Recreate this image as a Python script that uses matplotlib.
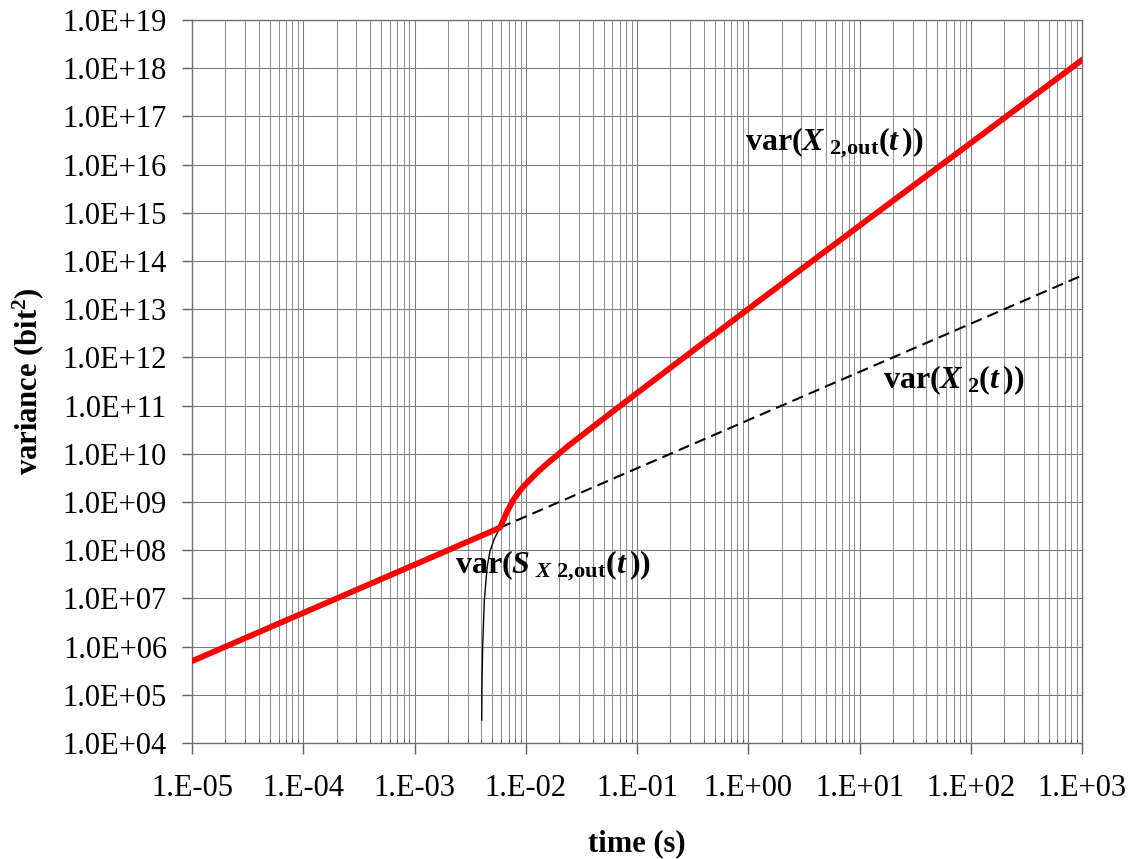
import numpy as np
import matplotlib
matplotlib.use("Agg")
import matplotlib.pyplot as plt
from matplotlib.ticker import FixedLocator, FuncFormatter, LogLocator, NullFormatter

plt.rcParams['font.family'] = ['Liberation Serif', 'DejaVu Serif']
plt.rcParams['mathtext.fontset'] = 'custom'
plt.rcParams['mathtext.rm'] = 'Liberation Serif:bold'
plt.rcParams['mathtext.bf'] = 'Liberation Serif:bold'
plt.rcParams['mathtext.it'] = 'Liberation Serif:italic:bold'

# ---- data ----
# var(X2(t)) : straight line, slope 1 in log-log
t_X = [1e-5, 1e3]
v_X = [5e5, 5e13]

# var(S_X2,out(t)) : thin black curve (continues beneath the red line)
t_S = [4.02e-3, 4.04e-3, 4.10e-3, 4.24e-3, 4.50e-3, 4.77e-3, 5.20e-3, 5.86e-3,
       6.76e-3, 7.73e-3, 8.71e-3, 9.51e-3, 1.10e-2, 1.25e-2, 1.51e-2, 1.90e-2,
       2.40e-2, 3.08e-2, 5.62e-2, 1e-1, 3.16e-1, 1e0, 3.16e0,
       1e1, 3.16e1, 1e2, 3.16e2, 1e3]
v_S = [3.0e4, 1.7e5, 1.0e6, 9.0e6, 4.5e7, 9.5e7, 1.7e8, 2.93e8,
       6.2e8, 1.10e9, 1.62e9, 2.09e9, 2.95e9, 3.98e9, 5.9e9, 9.2e9,
       1.45e10, 2.26e10, 6.6e10, 1.82e11, 1.36e12, 1.01e13, 7.4e13,
       5.4e14, 3.9e15, 2.8e16, 2.04e17, 1.48e18]

# break point where var(X2,out) switches from var(X2) to var(S)
t_knee = 5.86e-3

x_ticks = [1e-5, 1e-4, 1e-3, 1e-2, 1e-1, 1e0, 1e1, 1e2, 1e3]
x_ticklabels = ["1.E-05", "1.E-04", "1.E-03", "1.E-02", "1.E-01",
                "1.E+00", "1.E+01", "1.E+02", "1.E+03"]
y_exps = list(range(4, 20))
y_ticklabels = ["1.0E+%02d" % e for e in y_exps]

# ---- derived series ----
t_S_arr = np.array(t_S)
v_S_arr = np.array(v_S)
t_X_arr = np.array(t_X)
v_X_arr = np.array(v_X)
def var_X(t):
    return 10 ** np.interp(np.log10(t), np.log10(t_X_arr), np.log10(v_X_arr))

mask = t_S_arr >= t_knee
t_red = np.concatenate([[t_X[0]], t_S_arr[mask]])
v_red = np.concatenate([[v_X[0]], v_S_arr[mask]])
t_dash = np.array([t_knee, t_X[1]])
v_dash = var_X(t_dash)

# ---- figure ----
fig = plt.figure(figsize=(11.32, 8.59), dpi=100)
ax = fig.add_axes([192/1132, 1 - 743/859, (1082-192)/1132, (743-20)/859])
ax.set_xscale('log')
ax.set_yscale('log')
ax.set_xlim(1e-5, 1e3)
ax.set_ylim(1e4, 1e19)

ax.plot(t_dash, v_dash, color='black', lw=1.5, dashes=(5.5, 3), zorder=3)
ax.plot(t_S_arr, v_S_arr, color='black', lw=1.0, zorder=3)
ax.plot(t_red, v_red, color='#FF0000', lw=4.2, zorder=4, solid_joinstyle='round')

# ticks
ax.xaxis.set_major_locator(FixedLocator(x_ticks))
ax.xaxis.set_major_formatter(FuncFormatter(
    lambda v, p: x_ticklabels[int(round(np.log10(v))) + 5]
    if -5 <= round(np.log10(v)) <= 3 else ""))
ax.xaxis.set_minor_locator(LogLocator(base=10, subs=np.arange(2, 10), numticks=100))
ax.xaxis.set_minor_formatter(NullFormatter())
ax.yaxis.set_major_locator(FixedLocator([10.0 ** e for e in y_exps]))
ax.yaxis.set_major_formatter(FuncFormatter(
    lambda v, p: y_ticklabels[int(round(np.log10(v))) - 4]
    if 4 <= round(np.log10(v)) <= 19 else ""))
ax.yaxis.set_minor_locator(FixedLocator([]))

ax.tick_params(axis='x', which='major', direction='out', length=8, width=1,
               color='#606060', labelsize=22, pad=14)
ax.tick_params(axis='x', which='minor', direction='in', length=3, width=0.8,
               color='#606060')
ax.tick_params(axis='y', which='major', direction='out', length=7, width=1,
               color='#606060', labelsize=22, pad=11)

ax.grid(True, which='major', axis='both', color='#7a7a7a', lw=0.75)
ax.grid(True, which='minor', axis='x', color='#8c8c8c', lw=0.7)
ax.set_axisbelow(True)
for s in ax.spines.values():
    s.set_color('#707070')
    s.set_linewidth(1.0)

ax.set_xlabel('time (s)', fontsize=22, fontweight='bold', labelpad=19)
ax.set_ylabel(r'variance (bit$^{2}$)', fontsize=22, fontweight='bold', labelpad=12)

# annotations
ax.text(0.935, 2.0e16, r'$\mathrm{var(}X_{\mathrm{\ 2,\!out}}\mathrm{(}t\,\mathrm{))}$',
        fontsize=23, ha='left', va='baseline', zorder=5)
ax.text(16.3, 2.3e11, r'$\mathrm{var(}X_{\mathrm{\ 2}}\mathrm{(}t\,\mathrm{))}$',
        fontsize=23, ha='left', va='baseline', zorder=5)
ax.text(2.31e-3, 3.4e7, r'$\mathrm{var(}S_{\ X\mathrm{\ 2,\!out}}\mathrm{(}t\,\mathrm{))}$',
        fontsize=23, ha='left', va='baseline', zorder=5)

fig.savefig('out.png', dpi=100)
